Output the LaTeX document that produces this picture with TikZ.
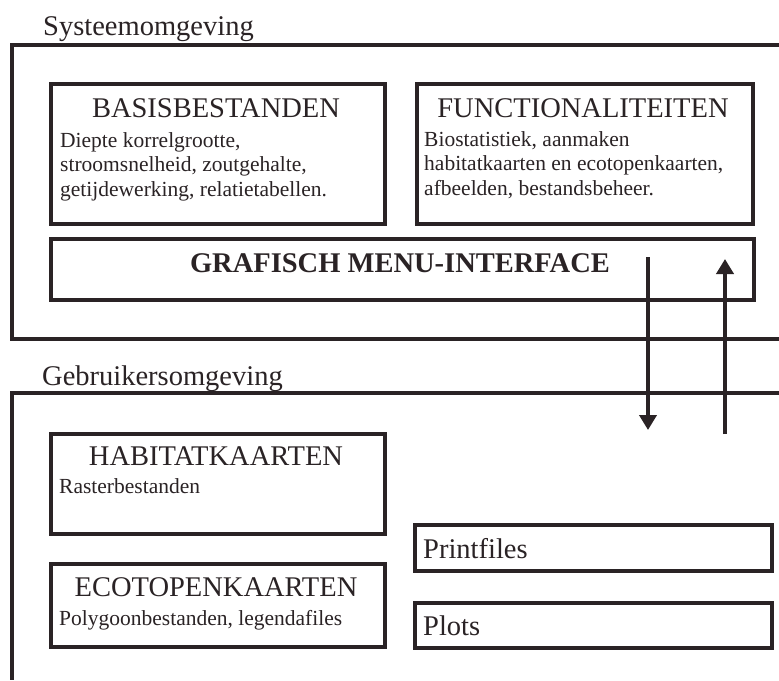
\documentclass[tikz,border=0pt]{standalone}
\usepackage{fontspec}
\setmainfont{Liberation Serif}
\usetikzlibrary{arrows.meta,positioning}
\definecolor{ink}{HTML}{2A2325}
\tikzset{
  omgeving/.style={draw=ink,line width=3.8pt},
  kader/.style={draw=ink,line width=3.8pt,anchor=north west,inner sep=0pt},
  kop/.style={font=\fontsize{28.5}{32}\selectfont,text=ink,inner sep=0pt,anchor=base},
  tekst/.style={font=\fontsize{21.5}{24}\selectfont,text=ink,inner sep=0pt,anchor=base west},
  pijl/.style={-{Triangle[length=15pt,width=17pt]},line width=3.8pt,draw=ink}
}

\begin{document}
\begin{tikzpicture}[x=1pt,y=-1pt]
  \useasboundingbox[fill=white] (0,0) rectangle (779,680);
  % systeemomgeving
  \node[kop,anchor=base west] (sysnaam) at (43,35) {Systeemomgeving};
  \draw[omgeving] (779,45) -- (12,45) -- (12,339) -- (779,339);
  \node[kader,minimum width=334pt,minimum height=140pt] (basis) at (49,82) {};
  \node[kop] (basiskop) at (216,117) {BASISBESTANDEN};
  \node[tekst] (basis1) at (60,147) {Diepte korrelgrootte,};
  \node[tekst] (basis2) at (60,171.5) {stroomsnelheid, zoutgehalte,};
  \node[tekst] (basis3) at (60,196) {getijdewerking, relatietabellen.};
  \node[kader,minimum width=336pt,minimum height=140pt] (func) at (415,82) {};
  \node[kop] (funckop) at (583,117) {FUNCTIONALITEITEN};
  \node[tekst] (func1) at (424,146) {Biostatistiek, aanmaken};
  \node[tekst] (func2) at (424,170.5) {habitatkaarten en ecotopenkaarten,};
  \node[tekst] (func3) at (424,195) {afbeelden, bestandsbeheer.};
  \node[kader,minimum width=703pt,minimum height=61pt] (menu) at (49,237) {};
  \node[kop,font=\fontsize{28.5}{32}\selectfont\bfseries] (menukop) at (400,272) {GRAFISCH MENU-INTERFACE};
  % gebruikersomgeving
  \node[kop,anchor=base west] (gebrnaam) at (42,385) {Gebruikersomgeving};
  \draw[omgeving] (779,393) -- (12,393) -- (12,680);
  \node[kader,minimum width=334pt,minimum height=100pt] (habitat) at (49,432) {};
  \node[kop] (habitatkop) at (216,465) {HABITATKAARTEN};
  \node[tekst] (habitat1) at (59,493) {Rasterbestanden};
  \node[kader,minimum width=334pt,minimum height=83pt] (ecotoop) at (49,562) {};
  \node[kop] (ecotoopkop) at (216,596) {ECOTOPENKAARTEN};
  \node[tekst] (ecotoop1) at (59,625) {Polygoonbestanden, legendafiles};
  \node[kader,minimum width=357pt,minimum height=46pt] (print) at (413,523) {};
  \node[kop,anchor=base west] (printtekst) at (423,558) {Printfiles};
  \node[kader,minimum width=357pt,minimum height=45pt] (plots) at (413,601) {};
  \node[kop,anchor=base west] (plotstekst) at (423,635) {Plots};
  % uitwisseling
  \coordinate (neerbegin) at (648,257);
  \coordinate (neereind) at (648,430);
  \coordinate (opbegin) at (725,434);
  \coordinate (opeind) at (725,259);
  \draw[pijl] (neerbegin) -- (neereind);
  \draw[pijl] (opbegin) -- (opeind);
\end{tikzpicture}
\end{document}
